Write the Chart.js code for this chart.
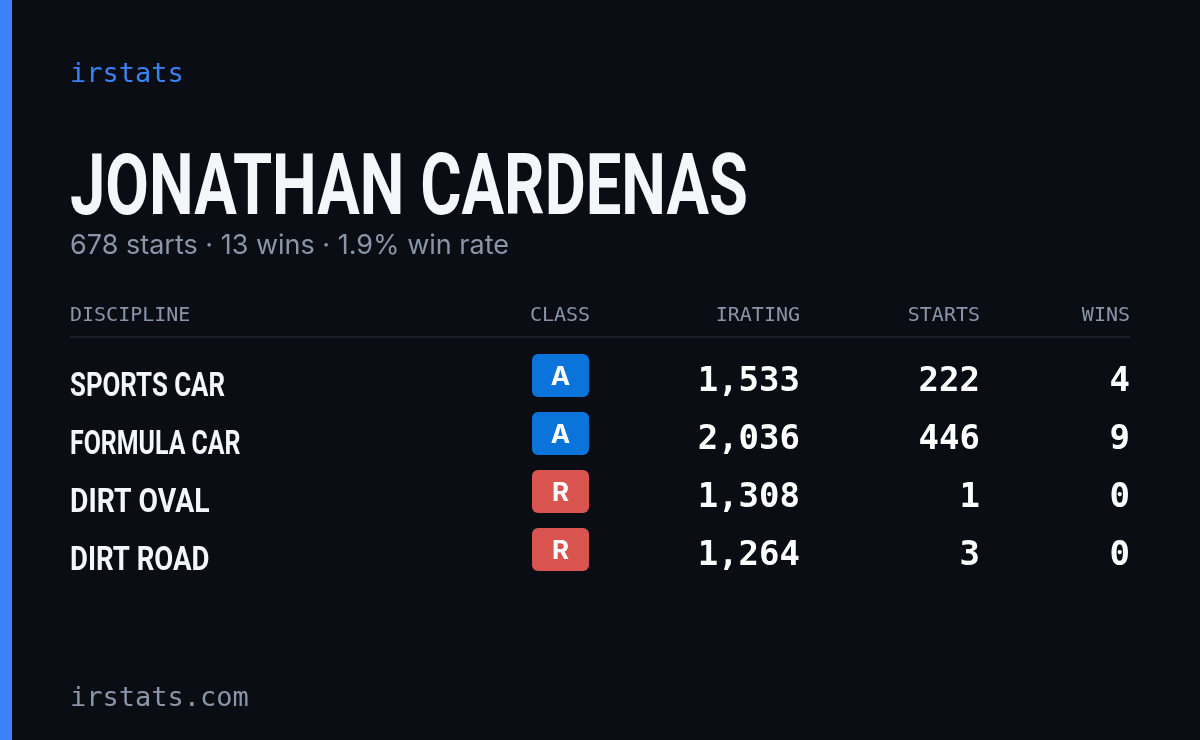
<!DOCTYPE html>
<html>
<head>
<meta charset="utf-8">
<script src="https://cdn.jsdelivr.net/npm/chart.js@4"></script>
<style>
  html, body { margin: 0; padding: 0; background: #0a0d14; }
  #wrap { width: 1200px; height: 740px; position: relative; }
</style>
</head>
<body>
<div id="wrap"><canvas id="card"></canvas></div>
<script>
// table data
var disciplines = ["SPORTS CAR", "FORMULA CAR", "DIRT OVAL", "DIRT ROAD"];
var classes = ["A", "A", "R", "R"];
var iratings = [1533, 2036, 1308, 1264];
var starts = [222, 446, 1, 3];
var wins = [4, 9, 0, 0];
var headers = ["DISCIPLINE", "CLASS", "IRATING", "STARTS", "WINS"];
// career totals (include disciplines not listed)
var totalStarts = 678;
var totalWins = 13;

var classColors = { A: '#0a74da', R: '#d9534f' };
var mono = '"DejaVu Sans Mono", monospace';
var narrow = '"Liberation Sans Narrow", "Roboto", sans-serif';

function fitText(ctx, txt, x, y, w) {
    var m = ctx.measureText(txt).width;
    ctx.save();
    ctx.translate(x, y);
    ctx.scale(Math.min(1, w / m), 1);
    ctx.fillText(txt, 0, 0);
    ctx.restore();
}

var tablePlugin = {
    id: 'tablePlugin',
    beforeDraw: function(chart) {
        var ctx = chart.ctx;
        ctx.save();
        ctx.fillStyle = '#0a0d14';
        ctx.fillRect(0, 0, chart.width, chart.height);
        ctx.fillStyle = '#3b82f6';
        ctx.fillRect(0, 0, 12, chart.height);
        ctx.restore();
    },
    afterDraw: function(chart) {
        var ctx = chart.ctx;
        var yScale = chart.scales.y;
        ctx.save();
        ctx.textBaseline = 'alphabetic';

        ctx.fillStyle = '#3b82f6';
        ctx.font = '27px ' + mono;
        ctx.fillText('irstats', 70, 82);

        ctx.fillStyle = '#f4f6fa';
        ctx.font = 'bold 86px ' + narrow;
        fitText(ctx, 'JONATHAN CARDENAS', 70, 214, 678);

        ctx.fillStyle = '#8b95a8';
        ctx.font = '27px "Inter", "Noto Sans", sans-serif';
        fitText(ctx, totalStarts + ' starts \u00b7 ' + totalWins + ' wins \u00b7 ' +
            (totalWins / totalStarts * 100).toFixed(1) + '% win rate', 70, 254, 460);

        // headers
        ctx.font = '20px ' + mono;
        ctx.fillStyle = '#8b95a8';
        ctx.textAlign = 'left';
        ctx.fillText(headers[0], 70, 321);
        ctx.textAlign = 'center';
        ctx.fillText(headers[1], 560, 321);
        ctx.textAlign = 'right';
        ctx.fillText(headers[2], 800, 321);
        ctx.fillText(headers[3], 980, 321);
        ctx.fillText(headers[4], 1130, 321);

        ctx.fillStyle = '#1c1f2a';
        ctx.fillRect(70, 336, 1060, 2);

        // rows from y scale
        disciplines.forEach(function(d, i) {
            var y = yScale.getPixelForValue(i);
            ctx.textAlign = 'left';
            ctx.fillStyle = '#f4f6fa';
            ctx.font = 'bold 34px ' + narrow;
            fitText(ctx, d, 70, y + 18, d.length * 15.5);

            ctx.fillStyle = classColors[classes[i]];
            ctx.beginPath();
            ctx.roundRect(532, y - 24, 57, 43, 6);
            ctx.fill();
            ctx.fillStyle = '#ffffff';
            ctx.font = 'bold 26px "Inter", "Noto Sans", sans-serif';
            ctx.textAlign = 'center';
            ctx.fillText(classes[i], 560.5, y + 7);

            ctx.font = 'bold 34px ' + mono;
            ctx.textAlign = 'right';
            ctx.fillText(iratings[i].toLocaleString('en-US'), 800, y + 13);
            ctx.fillText(String(starts[i]), 980, y + 13);
            ctx.fillText(String(wins[i]), 1130, y + 13);
        });

        ctx.fillStyle = '#8b95a8';
        ctx.font = '27px ' + mono;
        ctx.textAlign = 'left';
        ctx.fillText('irstats.com', 70, 706);
        ctx.restore();
    }
};

new Chart(document.getElementById('card').getContext('2d'), {
    type: 'bar',
    data: {
        labels: disciplines,
        datasets: [{
            label: 'Starts',
            data: starts,
            backgroundColor: 'rgba(0,0,0,0)',
            borderWidth: 0
        }]
    },
    options: {
        indexAxis: 'y',
        responsive: true,
        maintainAspectRatio: false,
        animation: false,
        events: [],
        layout: { padding: { top: 349, bottom: 159, left: 70, right: 70 } },
        plugins: { legend: { display: false }, tooltip: { enabled: false } },
        scales: {
            x: { display: false },
            y: { display: false }
        }
    },
    plugins: [tablePlugin]
});
</script>
</body>
</html>
